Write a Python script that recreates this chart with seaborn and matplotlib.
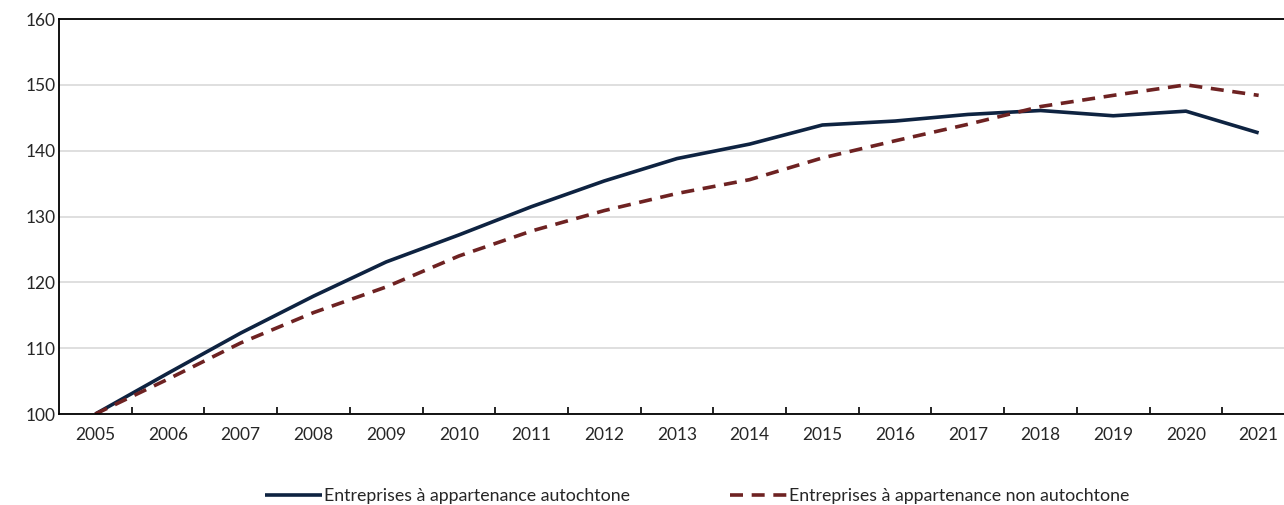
import matplotlib
matplotlib.use("Agg")
import matplotlib.pyplot as plt
import seaborn as sns
import numpy as np
import pandas as pd

years = list(range(2005, 2022))
autochtone = [100, 106.2, 112.3, 117.9, 123.1, 127.2, 131.5, 135.4, 138.8, 141.0,
              143.9, 144.5, 145.5, 146.1, 145.3, 146.0, 142.7]
non_autochtone = [100, 105.3, 110.8, 115.4, 119.3, 124.0, 127.8, 130.9, 133.5, 135.6,
                  138.9, 141.5, 144.0, 146.7, 148.4, 150.0, 148.4]
labels = ["Entreprises à appartenance autochtone",
          "Entreprises à appartenance non autochtone"]

df = pd.DataFrame({"year": years, labels[0]: autochtone, labels[1]: non_autochtone})
long = df.melt(id_vars="year", var_name="serie", value_name="valeur")

sns.set_theme(style="white")
plt.rcParams["font.family"] = ["Lato", "DejaVu Sans"]

fig = plt.figure(figsize=(12.84, 5.05), dpi=100)
ax = fig.add_axes([59 / 1284, 1 - 414 / 505, 1236 / 1284, 395 / 505])

sns.lineplot(data=long, x="year", y="valeur", hue="serie", style="serie",
             palette=["#0e2341", "#6e2222"], dashes=[(1, 0), (3.6, 2.4)],
             linewidth=2.6, ax=ax, legend=True)

ax.set_xlim(2004.5, 2021.5)
ax.set_ylim(100, 160)
ax.set_yticks(np.arange(100, 161, 10))
ax.set_xticks(years)
ax.set_xticklabels([str(y) for y in years])
ax.set_xticks(np.arange(2005.5, 2021.0, 1), minor=True)
ax.tick_params(axis="x", which="major", length=0, pad=9, labelsize=12.5)
ax.tick_params(axis="x", which="minor", direction="in", length=5, width=1.2,
               bottom=True, color="black")
ax.tick_params(axis="y", length=0, pad=24, labelsize=12.5)
for lab in ax.get_yticklabels():
    lab.set_horizontalalignment("left")
ax.yaxis.grid(True, color="#d9d9d9", linewidth=1.2)
ax.set_axisbelow(True)
ax.set_xlabel("")
ax.set_ylabel("")
for side in ["left", "bottom", "top"]:
    ax.spines[side].set_color("black")
    ax.spines[side].set_linewidth(1.3)
ax.spines["right"].set_visible(False)

handles, lbls = ax.get_legend_handles_labels()
ax.get_legend().remove()
fig.legend(handles, lbls, loc="lower center", bbox_to_anchor=(0.543, -0.03), ncol=2,
           frameon=False, fontsize=12.8, handlelength=3.2, handletextpad=0.15,
           columnspacing=5.6)

fig.savefig("out.png", dpi=100)
